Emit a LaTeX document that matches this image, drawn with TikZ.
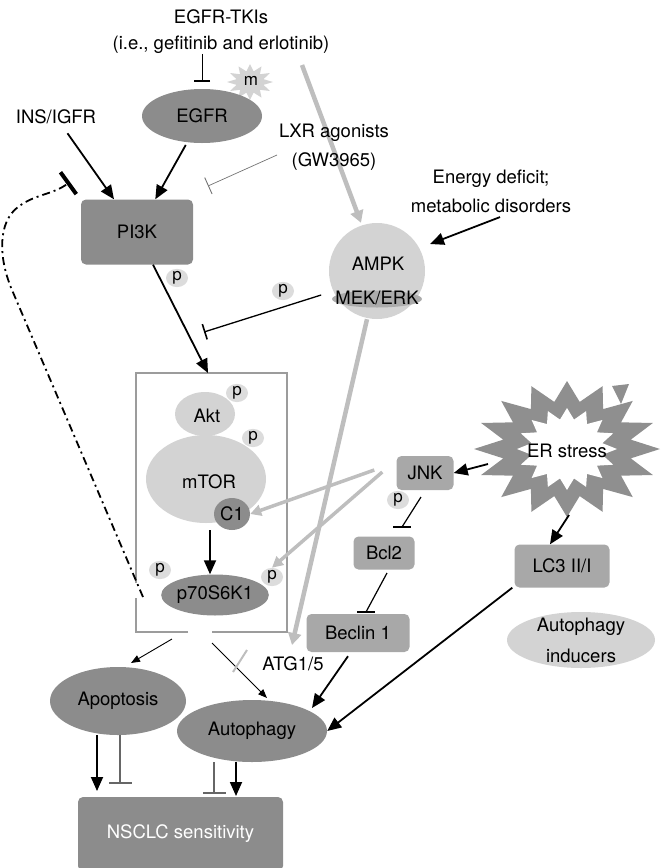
\documentclass[tikz,border=0pt]{standalone}
\usepackage{fontspec}
\setmainfont{TeX Gyre Heros}
\usetikzlibrary{arrows.meta,shapes.geometric,backgrounds}
\definecolor{dk}{HTML}{8C8C8C}
\definecolor{md}{HTML}{A8A8A8}
\definecolor{lt}{HTML}{D3D3D3}
\definecolor{pc}{HTML}{DCDCDC}
\definecolor{ga}{HTML}{BEBEBE}
\definecolor{bx}{HTML}{9C9C9C}
\definecolor{mekc}{HTML}{ABABAB}
\definecolor{stc}{HTML}{8F8F8F}
\begin{document}
\begin{tikzpicture}[x=1pt,y=-1pt,
  every node/.style={font=\fontsize{18.5}{22}\selectfont, inner sep=0pt, text=black},
  dkell/.style={ellipse, fill=dk},
  ltell/.style={ellipse, fill=lt},
  mdbox/.style={rectangle, rounded corners=5pt, fill=md},
  pmark/.style={ellipse, fill=pc, minimum width=22pt, minimum height=18pt, font=\fontsize{17}{20}\selectfont},
  act/.style={line width=1.8pt, -{Triangle[length=14pt,width=12pt]}},
  thinact/.style={line width=0.9pt, -{Triangle[length=9pt,width=7pt]}},
  grayact/.style={draw=ga, line width=4.5pt, -{Triangle[length=12pt,width=13pt]}},
  grayact2/.style={draw=ga, line width=3.5pt, -{Triangle[length=11pt,width=11pt]}},
  inh/.style={line width=1.2pt, -{Bar[width=16pt,line width=1.6pt]}},
  hbar/.style={line width=1.2pt},
  grayinh/.style={draw=black!60, line width=1.1pt, -{Bar[width=23pt,line width=2pt]}},
  dashdot/.style={line width=1.8pt, dash pattern=on 8pt off 4pt on 2pt off 4pt, -{Bar[width=27pt,line width=4pt]}}
]
\useasboundingbox (0,0) rectangle (661,868);

% ---------- top texts ----------
\node (tki1) at (221,17) {EGFR-TKIs};
\node (tki2) at (221,45) {(i.e., gefitinib and erlotinib)};
\node (ins) at (56,117) {INS/IGFR};
\node (lxr1) at (334,133) {LXR agonists};
\node (lxr2) at (334,162) {(GW3965)};
\node (en1) at (491,179) {Energy deficit;};
\node (en2) at (491,206) {metabolic disorders};

% m star
\fill[lt] plot[samples at={0,...,23}, variable=\i]
  ({250+(23-9*isodd(\i))*cos(90+\i*15)}, {82+(18-7*isodd(\i))*sin(90+\i*15)}) -- cycle;
\node[font=\fontsize{17}{20}\selectfont] (m) at (251,81) {m};

% EGFR, PI3K
\node[dkell, minimum width=120pt, minimum height=54pt] (egfr) at (202,116) {EGFR};
\node[rectangle, rounded corners=5pt, fill=dk, minimum width=112pt, minimum height=65pt] (pi3k) at (137,232) {PI3K};
\node[pmark] (pP) at (177,278) {p};

% AMPK
\node[circle, fill=lt, minimum size=96pt] (ampk) at (377,271) {};
\node[ellipse, fill=mekc, minimum width=90pt, minimum height=17pt] (mekbg) at (377,299) {};
\node (ampkt) at (378,264) {AMPK};
\node (mek) at (377,298) {MEK/ERK};
\node[pmark] (pA) at (283,291) {p};

% mTOR box
\draw[bx, line width=1.5pt] (136,583) -- (136,373) -- (287,373) -- (287,632) -- (212,632);
\draw[bx, line width=1.5pt] (188,632) -- (136,632) -- (136,598);

\node[ltell, minimum width=60pt, minimum height=44pt] (akt) at (205,414) {};
\node[ltell, minimum width=120pt, minimum height=88pt] (mtor) at (206,479) {};
\node (aktt) at (207,416) {Akt};
\node (mtort) at (209,482) {mTOR};
\node[pmark] (pAkt) at (237,393) {p};
\node[pmark] (pmTOR) at (253,438) {p};
\node[dkell, minimum width=36pt, minimum height=32pt] (c1) at (232,514) {C1};
\node[dkell, minimum width=106pt, minimum height=41pt] (p70) at (215,595) {p70S6K1};
\node[pmark] (pL) at (160,570) {p};
\node[pmark] (pR) at (272,577) {p};

% ER stress star
\fill[stc] plot[samples at={0,...,31}, variable=\i]
  ({567+(93-28*isodd(\i))*cos(90+\i*11.25)}, {449-(68-20*isodd(\i))*sin(90+\i*11.25)}) -- cycle;
\fill[white] plot[samples at={0,...,31}, variable=\i]
  ({567+(50-14*isodd(\i))*cos(90+\i*11.25)}, {449-(41-11*isodd(\i))*sin(90+\i*11.25)}) -- cycle;
\fill[stc] (612,386) -- (629,384) -- (621,404) -- cycle;
\node (er) at (567,451) {ER stress};

% right boxes
\node[mdbox, minimum width=57pt, minimum height=34pt] (jnk) at (425,473) {JNK};
\node[pmark] (pJ) at (398,500) {p};
\node[mdbox, minimum width=61pt, minimum height=33pt] (bcl2) at (384,553) {Bcl2};
\node[mdbox, minimum width=103pt, minimum height=38pt] (beclin) at (358,633) {Beclin 1};
\node[mdbox, minimum width=95pt, minimum height=43pt] (lc3) at (562,566) {LC3 II/I};
\node[ellipse, fill=lt, minimum width=148pt, minimum height=56pt] (indu) at (581,640) {};
\node (indu1) at (581,627) {Autophagy};
\node (indu2) at (581,656) {inducers};
\node (atg) at (293,664) {ATG1/5};

% bottom
\node[dkell, minimum width=136pt, minimum height=68pt] (apop) at (118,701) {Apoptosis};
\node[dkell, minimum width=150pt, minimum height=62pt] (auto) at (252,731) {Autophagy};
\node[rectangle, rounded corners=5pt, fill=dk, minimum width=205pt, minimum height=74pt, text=white] (nsclc) at (180.5,834) {NSCLC sensitivity};

% ---------- coordinates for connector ends ----------
\coordinate (tkiE) at (202,82);
\coordinate (lxrS) at (277,155);
\coordinate (lxrE) at (208,186);
\coordinate (ddS) at (143,597);
\coordinate (ddE) at (70,182);
\coordinate (boxTop) at (208,373);
\coordinate (grayS) at (302,65);
\coordinate (mekE) at (204,332);
\coordinate (atgE) at (292,645);
\coordinate (boxBL) at (172,639);
\coordinate (boxBR) at (212,643);
\coordinate (apopE) at (97,791);
\coordinate (apopI) at (120,784);
\coordinate (autoI) at (214,794);
\coordinate (autoE) at (236,796);
\coordinate (bclE) at (402,527);
\coordinate (becE) at (366,612);

% ---------- connectors ----------
\begin{scope}[on background layer]
\draw[grayact] (grayS) -- (ampk.north -| 361,0);
\end{scope}
\draw[inh, line width=1pt] (tki2.south -| tkiE) -- (tkiE);
\draw[act, shorten <=11pt] (ins) -- (pi3k);
\draw[act, shorten <=3pt] (egfr) -- (pi3k);
\draw[draw=black!55, line width=0.7pt, -{Bar[width=18pt,line width=0.9pt]}] (lxrS) -- (lxrE);
\draw[dashdot] (ddS) -- (12,290) .. controls (-2,257) and (-2,222) .. (18,207)
   .. controls (35,194) and (52,195) .. (ddE);
\draw[act] (pi3k.south -| 153,0) -- (boxTop);
\draw[act] (en2.south -| 500,0) ++(0,4) -- (430,244);
\draw[inh, line width=1.3pt] (mek.west) ++(-14,-3) -- (mekE);
\draw[grayact] (ampk.south -| 367,0) -- (atgE);
\draw[act] (c1.south -| 210,0) -- (p70.north -| 210,0);
\draw[grayact2] (jnk.west) ++(-22,-3) -- (c1.east);
\draw[grayact2] (jnk.west) ++(-14,-1) -- (pR.north);
\draw[act] (488,464) -- (jnk.east);
\draw[hbar] (421,497) -- (bclE);
\draw[line width=1.6pt] (bclE) ++(-9,0) -- ++(18,0);
\draw[hbar] (387,573) -- (becE);
\draw[line width=1.6pt] (becE) ++(-9,0) -- ++(18,0);
\draw[act] (569,515) -- (lc3.north -| 550,0);
\draw[act] (lc3.south west) ++(-2,0) -- (auto.east);
\draw[act] (beclin.south -| 348,0) ++(0,4) -- (312,708);
\draw[thinact] (boxBL) -- (131,663);
\draw[thinact] (boxBR) -- (267,698);
\draw[draw=ga, line width=2pt] (247,650) -- (233,672);
\draw[act] (apop.south -| apopE) -- (apopE);
\draw[grayinh] (apop.south -| apopI) -- (apopI);
\draw[grayinh] (auto.south -| autoI) -- (autoI);
\draw[act] (auto.south -| autoE) -- (autoE);
\end{tikzpicture}
\end{document}
